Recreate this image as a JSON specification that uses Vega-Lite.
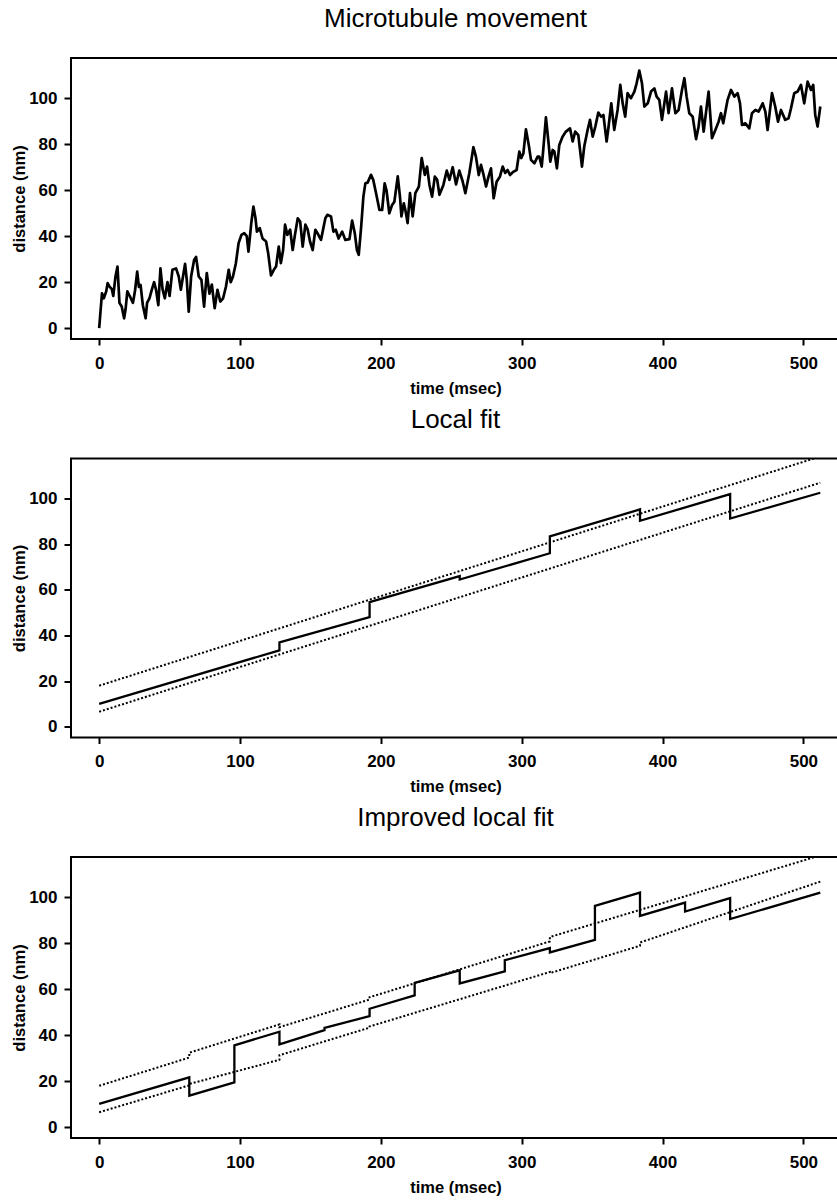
{
  "$schema": "https://vega.github.io/schema/vega-lite/v6.json",
  "background": "white",
  "padding": {"left": 10, "top": 5, "right": 0, "bottom": 0},
  "spacing": 7.5,
  "config": {
    "view": {"stroke": "black", "strokeWidth": 2},
    "font": "Liberation Sans",
    "axis": {"domain": false, "grid": false, "tickColor": "black", "tickWidth": 2, "labelFont": "Liberation Sans", "labelFontWeight": "bold", "labelFontSize": 17, "labelColor": "black", "titleFont": "Liberation Sans", "titleFontWeight": "bold", "titleFontSize": 16.5, "titleColor": "black"},
    "axisX": {"tickSize": 6, "labelPadding": 10, "titlePadding": 9},
    "axisY": {"tickSize": 7, "labelPadding": 7, "titlePadding": 1},
    "title": {"font": "Liberation Sans", "fontSize": 26, "fontWeight": "normal", "color": "black", "frame": "group", "anchor": "middle", "baseline": "alphabetic", "offset": 26}
  },
  "datasets": {
    "movement": [
      {"t":0,"d":0},{"t":2,"d":15.2},{"t":3.3,"d":13},{"t":5,"d":16},{"t":6,"d":19.6},{"t":7.5,"d":18},{"t":9,"d":17},{"t":10,"d":14},{"t":11.6,"d":22.5},{"t":13,"d":26.8},{"t":14.4,"d":11},{"t":16,"d":9.4},{"t":17.7,"d":4.3},{"t":18.7,"d":8},{"t":20,"d":16},{"t":21.7,"d":14},{"t":24,"d":11},{"t":25.5,"d":16.5},{"t":27,"d":24.6},{"t":28.2,"d":18},{"t":29.4,"d":18.8},{"t":31,"d":10},{"t":33,"d":4.3},{"t":34,"d":11},{"t":35.7,"d":13},{"t":37.5,"d":17},{"t":39,"d":20},{"t":40.4,"d":16.7},{"t":42,"d":10},{"t":43.5,"d":26},{"t":45,"d":17},{"t":46.6,"d":13},{"t":48.5,"d":20},{"t":50,"d":14},{"t":52,"d":25.4},{"t":54.6,"d":26},{"t":56.5,"d":22.5},{"t":58,"d":16.7},{"t":61,"d":28},{"t":62.2,"d":21},{"t":63.6,"d":7.2},{"t":65.3,"d":22.5},{"t":67.4,"d":29.7},{"t":68.8,"d":31},{"t":70.7,"d":22.5},{"t":72.6,"d":21},{"t":74.5,"d":9.4},{"t":76.4,"d":24},{"t":78.3,"d":15},{"t":80,"d":19},{"t":82,"d":8.7},{"t":84,"d":16.7},{"t":86,"d":11.6},{"t":88,"d":13},{"t":90,"d":18},{"t":92,"d":25.4},{"t":93.4,"d":20},{"t":95,"d":22.5},{"t":97,"d":28},{"t":99,"d":37},{"t":101,"d":40.6},{"t":103,"d":41.3},{"t":104.8,"d":40},{"t":106,"d":33.3},{"t":108,"d":45.7},{"t":109.5,"d":52.9},{"t":111,"d":47.8},{"t":112,"d":42},{"t":114,"d":43.5},{"t":116,"d":39},{"t":118.5,"d":37.7},{"t":120,"d":32.6},{"t":122,"d":23},{"t":124,"d":25.4},{"t":125.6,"d":26.8},{"t":127.5,"d":35.5},{"t":129,"d":28.3},{"t":130.6,"d":34},{"t":132,"d":45},{"t":133.6,"d":40.6},{"t":135.6,"d":42.8},{"t":137.4,"d":34},{"t":139,"d":40.6},{"t":141,"d":47.8},{"t":142.7,"d":46.4},{"t":144.5,"d":35.5},{"t":146.4,"d":45},{"t":148,"d":43},{"t":149.7,"d":37.7},{"t":151.6,"d":34},{"t":153.5,"d":42.8},{"t":155,"d":41.3},{"t":157.5,"d":38.4},{"t":160.6,"d":47.8},{"t":162,"d":49.3},{"t":164.6,"d":48.6},{"t":166.3,"d":42},{"t":168,"d":42.8},{"t":170,"d":39},{"t":172.5,"d":42},{"t":174.8,"d":38.4},{"t":177.7,"d":38.7},{"t":179.6,"d":46.8},{"t":181.5,"d":41.3},{"t":183,"d":34},{"t":184.3,"d":31.9},{"t":186,"d":44},{"t":187.6,"d":57.2},{"t":189,"d":63},{"t":190.6,"d":63.3},{"t":193,"d":66.7},{"t":194.6,"d":64.5},{"t":196.6,"d":58.7},{"t":199,"d":51.4},{"t":200.9,"d":51.4},{"t":202.7,"d":63},{"t":204,"d":60},{"t":206,"d":50},{"t":208,"d":53.6},{"t":209.6,"d":55},{"t":212,"d":66},{"t":213.6,"d":57},{"t":214.6,"d":48.6},{"t":216.3,"d":54.3},{"t":217.4,"d":51.4},{"t":219,"d":45.7},{"t":220.7,"d":58.7},{"t":222.6,"d":48.6},{"t":224.5,"d":58.7},{"t":227,"d":61.6},{"t":229,"d":74},{"t":231.2,"d":66.7},{"t":232.8,"d":70.3},{"t":234.5,"d":62.3},{"t":236.4,"d":57.2},{"t":238.3,"d":65.9},{"t":240,"d":64.5},{"t":241.6,"d":58},{"t":244.4,"d":62.3},{"t":246.8,"d":68.5},{"t":248.7,"d":64.5},{"t":251,"d":70},{"t":253.4,"d":62.5},{"t":255.7,"d":68.5},{"t":258,"d":64},{"t":260,"d":58.7},{"t":262.8,"d":67.4},{"t":265.7,"d":78.7},{"t":267.5,"d":74.6},{"t":269.5,"d":66.6},{"t":271.1,"d":71},{"t":272.8,"d":67},{"t":274.7,"d":61.6},{"t":276.5,"d":66},{"t":278.2,"d":69.5},{"t":280.1,"d":56.5},{"t":282.2,"d":63.7},{"t":284.6,"d":66},{"t":286.5,"d":70.3},{"t":288.3,"d":67.5},{"t":290,"d":68.8},{"t":291.7,"d":66.6},{"t":294,"d":68},{"t":296.4,"d":68.8},{"t":298.3,"d":76.8},{"t":299.7,"d":74},{"t":301.2,"d":76},{"t":303,"d":86.5},{"t":305,"d":79.7},{"t":306.6,"d":73.2},{"t":309,"d":71.7},{"t":311.3,"d":74.6},{"t":312.5,"d":74.6},{"t":314.2,"d":70.3},{"t":315.3,"d":77.5},{"t":317.2,"d":91.7},{"t":319.1,"d":80.4},{"t":320.3,"d":72.4},{"t":322,"d":77.5},{"t":323.2,"d":76.8},{"t":325,"d":69.5},{"t":326.7,"d":79.7},{"t":329,"d":83.3},{"t":331.4,"d":85.5},{"t":334.3,"d":86.9},{"t":336.2,"d":81.2},{"t":338,"d":85.5},{"t":340.2,"d":84},{"t":342.8,"d":70.3},{"t":344.4,"d":79},{"t":346.8,"d":86.2},{"t":348.5,"d":90.6},{"t":350.4,"d":83.3},{"t":352.3,"d":87.7},{"t":354.4,"d":93.8},{"t":356.3,"d":92},{"t":358,"d":92.7},{"t":360.3,"d":81.2},{"t":361.7,"d":87.7},{"t":363.6,"d":97.8},{"t":365.7,"d":86.2},{"t":368.1,"d":94.9},{"t":370,"d":105.8},{"t":371.7,"d":97.8},{"t":373.5,"d":92},{"t":375.2,"d":102.2},{"t":377.6,"d":100},{"t":380,"d":102.9},{"t":381.6,"d":106.5},{"t":383.5,"d":112},{"t":385.4,"d":106.5},{"t":387.1,"d":96.4},{"t":389.5,"d":97.8},{"t":391.8,"d":102.9},{"t":394.2,"d":104.3},{"t":395.8,"d":100.7},{"t":397.7,"d":99.3},{"t":399.6,"d":90.6},{"t":402.5,"d":102.9},{"t":404.3,"d":93.5},{"t":406.7,"d":104.3},{"t":409.1,"d":93.5},{"t":411.4,"d":94.9},{"t":413.8,"d":103.6},{"t":415.5,"d":108.7},{"t":417.1,"d":100.7},{"t":419,"d":93.5},{"t":421.4,"d":92},{"t":423.8,"d":82.2},{"t":425.6,"d":87.7},{"t":427.3,"d":96.4},{"t":429.2,"d":85.5},{"t":430.8,"d":93.5},{"t":432.7,"d":102.9},{"t":435.1,"d":82.6},{"t":437.5,"d":86.2},{"t":439.8,"d":89.8},{"t":441.5,"d":93.5},{"t":443.1,"d":89.1},{"t":446.2,"d":99.3},{"t":448.6,"d":103.6},{"t":451,"d":100.7},{"t":453.3,"d":102.2},{"t":455,"d":97.8},{"t":456.4,"d":88.4},{"t":458.8,"d":89.1},{"t":461.6,"d":86.9},{"t":463.5,"d":93.5},{"t":465.9,"d":94.9},{"t":468.2,"d":94.2},{"t":471.1,"d":97.8},{"t":473,"d":94.2},{"t":474.6,"d":86.2},{"t":477.7,"d":102.2},{"t":480,"d":96.4},{"t":482,"d":89.8},{"t":484.1,"d":94.9},{"t":487.1,"d":90.6},{"t":489.5,"d":91.3},{"t":491.2,"d":95.6},{"t":493.5,"d":102.2},{"t":495.9,"d":102.9},{"t":498.3,"d":105.8},{"t":500.6,"d":97.8},{"t":503,"d":107.2},{"t":505.4,"d":103.6},{"t":507,"d":105.8},{"t":508.4,"d":92.7},{"t":510.1,"d":87.7},{"t":512,"d":96.4}
    ],
    "local": [
      {"series":"fit","t":0,"d":10},{"series":"fit","t":128,"d":33.5},{"series":"fit","t":128,"d":37},{"series":"fit","t":192,"d":48},{"series":"fit","t":192,"d":54.6},{"series":"fit","t":256,"d":66},{"series":"fit","t":256,"d":64.5},{"series":"fit","t":320,"d":76},{"series":"fit","t":320,"d":83.4},{"series":"fit","t":384,"d":95.2},{"series":"fit","t":384,"d":90.2},{"series":"fit","t":448,"d":101.9},{"series":"fit","t":448,"d":91.2},{"series":"fit","t":512,"d":102.5},
      {"series":"upper","t":0,"d":18},{"series":"upper","t":512,"d":118.4},
      {"series":"lower","t":0,"d":6.6},{"series":"lower","t":512,"d":106.9}
    ],
    "improved": [
      {"series":"fit","t":0,"d":10.1},{"series":"fit","t":64,"d":21.7},{"series":"fit","t":64,"d":13.7},{"series":"fit","t":96,"d":19.5},{"series":"fit","t":96,"d":35.6},{"series":"fit","t":128,"d":41.5},{"series":"fit","t":128,"d":36},{"series":"fit","t":160,"d":42.2},{"series":"fit","t":160,"d":43.2},{"series":"fit","t":192,"d":48.3},{"series":"fit","t":192,"d":51.5},{"series":"fit","t":224,"d":57.3},{"series":"fit","t":224,"d":62.8},{"series":"fit","t":256,"d":68.2},{"series":"fit","t":256,"d":62.5},{"series":"fit","t":288,"d":67.8},{"series":"fit","t":288,"d":72.6},{"series":"fit","t":320,"d":77.9},{"series":"fit","t":320,"d":76},{"series":"fit","t":352,"d":81.5},{"series":"fit","t":352,"d":96.2},{"series":"fit","t":384,"d":102},{"series":"fit","t":384,"d":91.9},{"series":"fit","t":416,"d":97.7},{"series":"fit","t":416,"d":93.8},{"series":"fit","t":448,"d":99.6},{"series":"fit","t":448,"d":90.5},{"series":"fit","t":512,"d":102},
      {"series":"upper","t":0,"d":18},{"series":"upper","t":64,"d":30.3},{"series":"upper","t":64,"d":32.4},{"series":"upper","t":128,"d":44.7},{"series":"upper","t":128,"d":43.5},{"series":"upper","t":192,"d":55.5},{"series":"upper","t":192,"d":56.5},{"series":"upper","t":320,"d":80.8},{"series":"upper","t":320,"d":82.7},{"series":"upper","t":384,"d":94.5},{"series":"upper","t":512,"d":118.2},
      {"series":"lower","t":0,"d":6.5},{"series":"lower","t":64,"d":18.2},{"series":"lower","t":64,"d":18.8},{"series":"lower","t":128,"d":29.3},{"series":"lower","t":128,"d":31.3},{"series":"lower","t":192,"d":43.3},{"series":"lower","t":192,"d":43.8},{"series":"lower","t":320,"d":67.5},{"series":"lower","t":320,"d":67},{"series":"lower","t":384,"d":78.9},{"series":"lower","t":384,"d":80.3},{"series":"lower","t":512,"d":106.8}
    ]
  },
  "vconcat": [
    {
      "title": "Microtubule movement",
      "width": 769,
      "height": 281,
      "data": {"name": "movement"},
      "mark": {"type": "line", "color": "black", "strokeWidth": 2.7, "clip": true, "strokeJoin": "round"},
      "encoding": {
        "x": {"field": "t", "type": "quantitative", "scale": {"domain": [-20, 526], "nice": false, "zero": false}, "axis": {"values": [0, 100, 200, 300, 400, 500], "title": "time (msec)"}},
        "y": {"field": "d", "type": "quantitative", "scale": {"domain": [-4.7, 117.5], "nice": false, "zero": false}, "axis": {"values": [0, 20, 40, 60, 80, 100], "title": "distance (nm)"}},
        "order": {"value": null}
      }
    },
    {
      "title": "Local fit",
      "width": 769,
      "height": 279,
      "data": {"name": "local"},
      "encoding": {
        "x": {"field": "t", "type": "quantitative", "scale": {"domain": [-20, 526], "nice": false, "zero": false}, "axis": {"values": [0, 100, 200, 300, 400, 500], "title": "time (msec)"}},
        "y": {"field": "d", "type": "quantitative", "scale": {"domain": [-4.7, 117.5], "nice": false, "zero": false}, "axis": {"values": [0, 20, 40, 60, 80, 100], "title": "distance (nm)"}},
        "order": {"value": null}
      },
      "layer": [
        {"transform": [{"filter": "datum.series != 'fit'"}], "mark": {"type": "line", "color": "black", "strokeWidth": 2, "strokeDash": [2, 2], "clip": true}, "encoding": {"detail": {"field": "series"}}},
        {"transform": [{"filter": "datum.series == 'fit'"}], "mark": {"type": "line", "color": "black", "strokeWidth": 2.3, "clip": true}}
      ]
    },
    {
      "title": "Improved local fit",
      "width": 769,
      "height": 281,
      "data": {"name": "improved"},
      "encoding": {
        "x": {"field": "t", "type": "quantitative", "scale": {"domain": [-20, 526], "nice": false, "zero": false}, "axis": {"values": [0, 100, 200, 300, 400, 500], "title": "time (msec)"}},
        "y": {"field": "d", "type": "quantitative", "scale": {"domain": [-4.7, 117.5], "nice": false, "zero": false}, "axis": {"values": [0, 20, 40, 60, 80, 100], "title": "distance (nm)"}},
        "order": {"value": null}
      },
      "layer": [
        {"transform": [{"filter": "datum.series != 'fit'"}], "mark": {"type": "line", "color": "black", "strokeWidth": 2, "strokeDash": [2, 2], "clip": true}, "encoding": {"detail": {"field": "series"}}},
        {"transform": [{"filter": "datum.series == 'fit'"}], "mark": {"type": "line", "color": "black", "strokeWidth": 2.3, "clip": true}}
      ]
    }
  ]
}
